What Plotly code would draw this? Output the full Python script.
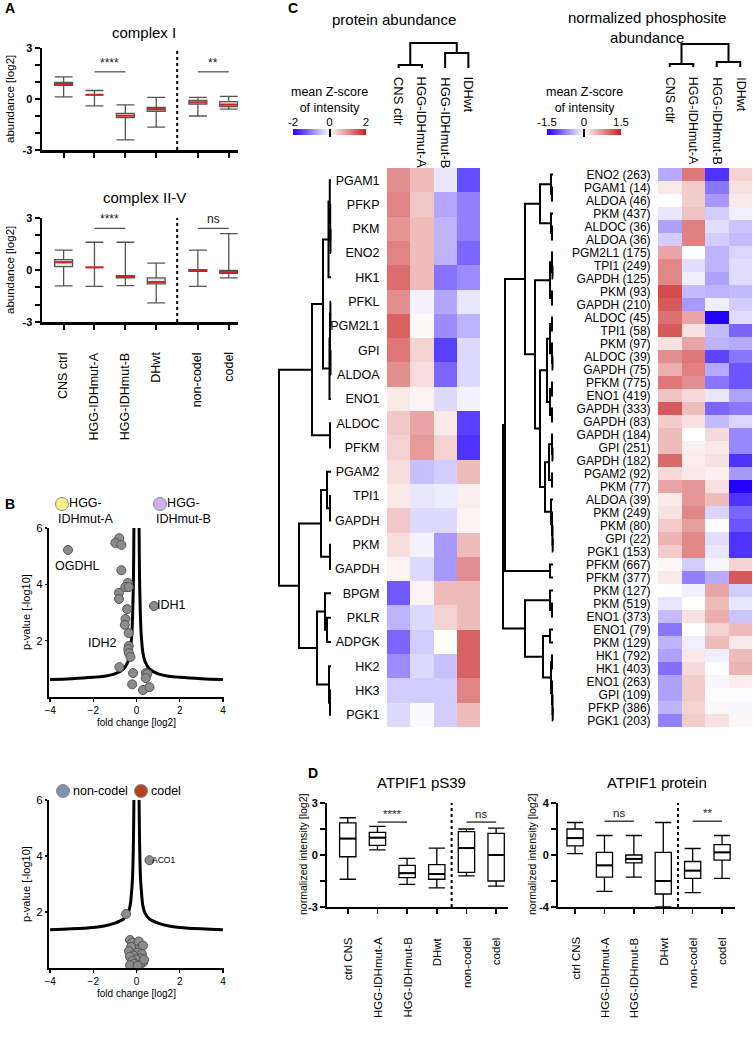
import numpy as np
import plotly.graph_objects as go

W, H = 753, 1038
FONT = "Liberation Sans, Arial, Helvetica, sans-serif"

# ---------------- data: panel A ----------------
groups_A = ["CNS ctrl", "HGG-IDHmut-A", "HGG-IDHmut-B", "DHwt", "non-codel", "codel"]
group_colors = ["#9b6b2b", "#f6f28c", "#cdb0f4", "#8aae8c", "#7b94b5", "#b5411e"]
pos_A = [0, 1, 2, 3, 4.35, 5.35]
sep_A = 3.68

c1_lo = [0.12, -0.4, -2.4, -1.65, -1.0, -0.6]
c1_q1 = [0.8, 0.25, -1.1, -0.72, -0.3, -0.45]
c1_med = [0.88, 0.25, -0.98, -0.6, -0.2, -0.33]
c1_q3 = [0.98, 0.25, -0.85, -0.5, -0.08, -0.15]
c1_hi = [1.3, 0.5, -0.35, 0.1, 0.1, 0.15]

c2_lo = [-0.92, -0.95, -0.9, -1.9, -0.95, -0.45]
c2_q1 = [0.2, 0.15, -0.45, -0.8, -0.08, -0.2]
c2_med = [0.45, 0.15, -0.4, -0.7, -0.03, -0.12]
c2_q3 = [0.6, 0.15, -0.32, -0.45, 0.02, -0.03]
c2_hi = [1.15, 1.6, 1.6, 0.4, 1.15, 2.1]

sig_A1_pairs = [(1, 2), (4, 5)]
sig_A1_text = ["****", "**"]
sig_A1_y = [1.6, 1.6]
sig_A2_pairs = [(1, 2), (4, 5)]
sig_A2_text = ["****", "ns"]
sig_A2_y = [2.4, 2.4]

# ---------------- data: panel B ----------------
v1_fc = [-3.17, -0.8, -0.98, -0.7, -0.7, -0.4, -0.52, -0.36, -0.81, -0.81, -0.43, -0.51,
         -0.54, -0.36, -0.36, -0.38, -0.35, -0.28, -0.79, -0.16, 0.81, 0.43, 0.5, 0.43,
         0.3, 0.6, -0.2]
v1_p = [5.22, 5.64, 5.47, 5.4, 4.5, 4.05, 3.9, 3.9, 3.7, 3.48, 3.12, 2.77,
        2.56, 2.27, 1.81, 1.7, 1.56, 1.42, 1.06, 0.85, 3.23, 0.85, 0.82, 0.67,
        0.25, 0.35, 0.45]
curve1_x = [0.12, 0.13, 0.15, 0.18, 0.22, 0.3, 0.4, 0.6, 1.0, 1.5, 2.0, 3.0, 4.0]
curve1_y = [6.0, 5.0, 3.8, 2.9, 2.2, 1.55, 1.25, 1.0, 0.82, 0.74, 0.7, 0.65, 0.62]

v2_fc = [0.6, -0.48, -0.3, -0.2, 0.1, -0.25, 0.15, 0.3, -0.35, 0.05, 0.25, -0.15, -0.3,
         0.2, 0.0, -0.2, 0.3, -0.1, 0.15, -0.3, 0.05, 0.35]
v2_p = [3.85, 1.93, 1.0, 0.9, 0.95, 0.75, 0.7, 0.8, 0.6, 0.55, 0.5, 0.45, 0.4,
        0.35, 0.3, 0.25, 0.2, 0.15, 0.12, 0.1, 0.08, 0.3]
curve2_x = [0.12, 0.13, 0.15, 0.18, 0.22, 0.3, 0.4, 0.6, 1.0, 1.5, 2.0, 3.0, 4.0]
curve2_y = [6.0, 5.2, 4.2, 3.3, 2.8, 2.2, 1.95, 1.75, 1.6, 1.5, 1.45, 1.4, 1.37]

# ---------------- data: panel C ----------------
heat_cols = ["CNS ctlr", "HGG-IDHmut-A", "HGG-IDHmut-B", "IDHwt"]
prot_rows = ["PGAM1", "PFKP", "PKM", "ENO2", "HK1", "PFKL", "PGM2L1", "GPI", "ALDOA", "ENO1",
             "ALDOC", "PFKM", "PGAM2", "TPI1", "GAPDH", "PKM", "GAPDH", "BPGM", "PKLR",
             "ADPGK", "HK2", "HK3", "PGK1"]
prot_z = [
    [1.0, 0.6, -0.2, -1.4], [1.1, 0.5, -0.7, -1.0], [0.95, 0.6, -0.6, -1.0],
    [1.1, 0.6, -0.6, -1.2], [1.3, 0.6, -1.1, -0.9], [1.0, -0.1, -0.7, -0.2],
    [1.4, 0.05, -0.9, -0.6], [1.2, 0.4, -1.5, -0.3], [1.0, 0.3, -1.2, -0.3],
    [0.2, 0.1, -0.3, -0.1], [0.5, 0.8, 0.2, -1.5], [0.4, 0.9, 0.4, -1.6],
    [0.3, -0.5, -0.4, 0.6], [0.2, -0.2, -0.15, 0.15], [0.5, -0.3, -0.3, 0.1],
    [0.3, -0.1, -0.8, 0.6], [0.1, -0.3, -0.8, 1.0], [-1.3, 0.1, 0.6, 0.6],
    [-0.6, -0.3, 0.4, 0.6], [-1.2, -0.4, 0.0, 1.4], [-0.9, -0.3, -0.5, 1.4],
    [-0.4, -0.4, -0.4, 1.1], [-0.3, -0.05, -0.4, 0.6]]
phos_rows = ["ENO2 (263)", "PGAM1 (14)", "ALDOA (46)", "PKM (437)", "ALDOC (36)", "ALDOA (36)",
             "PGM2L1 (175)", "TPI1 (249)", "GAPDH (125)", "PKM (93)", "GAPDH (210)", "ALDOC (45)",
             "TPI1 (58)", "PKM (97)", "ALDOC (39)", "GAPDH (75)", "PFKM (775)", "ENO1 (419)",
             "GAPDH (333)", "GAPDH (83)", "GAPDH (184)", "GPI (251)", "GAPDH (182)", "PGAM2 (92)",
             "PKM (77)", "ALDOA (39)", "PKM (249)", "PKM (80)", "GPI (22)", "PGK1 (153)",
             "PFKM (667)", "PFKM (377)", "PKM (127)", "PKM (519)", "ENO1 (373)", "ENO1 (79)",
             "PKM (129)", "HK1 (792)", "HK1 (403)", "ENO1 (263)", "GPI (109)", "PFKP (386)",
             "PGK1 (203)"]
phos_z = [
    [-0.5, 0.9, -1.2, 0.3], [0.15, 0.35, -0.8, 0.2], [0.0, 0.35, -0.6, 0.15],
    [-0.15, 0.4, -0.3, -0.1], [-0.55, 0.85, -0.2, -0.35], [-0.3, 0.85, -0.3, -0.4],
    [0.6, 0.0, -0.45, -0.25], [0.8, -0.2, -0.45, -0.2], [0.8, -0.1, -0.55, -0.2],
    [1.2, -0.4, -0.45, -0.4], [1.1, -0.6, -0.1, -0.3], [0.95, 0.6, -1.5, -0.2],
    [1.1, 0.2, -0.4, -0.9], [0.2, 0.6, -0.45, -0.5], [0.75, 0.9, -1.1, -0.8],
    [0.55, 0.85, -0.5, -1.0], [0.9, 0.75, -0.8, -1.0], [0.4, 0.25, -0.15, -0.55],
    [1.1, 0.45, -0.9, -0.8], [0.35, 0.2, -0.4, -0.25], [0.45, 0.0, 0.25, -0.7],
    [0.45, 0.1, 0.15, -0.7], [1.0, 0.12, 0.2, -1.2], [0.25, 0.15, 0.1, -0.6],
    [0.6, 0.7, 0.2, -1.5], [0.15, 0.7, 0.45, -1.2], [0.2, 0.8, -0.25, -0.9],
    [0.35, 0.65, 0.0, -1.0], [0.5, 0.8, -0.2, -1.2], [0.35, 0.8, -0.15, -1.2],
    [0.05, -0.3, -0.05, 0.3], [0.15, -0.75, -0.5, 1.1], [0.0, -0.1, 0.6, -0.3],
    [-0.15, 0.0, 0.45, -0.15], [-0.4, 0.2, 0.55, -0.35], [-0.8, 0.0, 0.3, 0.45],
    [-0.45, -0.1, 0.45, 0.15], [-0.55, 0.15, -0.1, 0.45], [-0.85, 0.25, 0.0, 0.5],
    [-0.55, 0.35, -0.05, 0.12], [-0.55, 0.35, 0.02, -0.02], [-0.45, 0.3, 0.05, -0.05],
    [-0.75, 0.35, 0.2, 0.05]]

# dendrograms: (height, left, right), leaves = row/column index
prot_row_tree = (52,
                 (19,
                  (8,
                   (2.5, (1.2, 0, (0.8, 1, (0.5, 2, 3))), 4),
                   (1.5, (1.0, (0.6, 5, 6), (0.5, 7, 8)), 9)),
                  (1.0, 10, 11)),
                 (32,
                  (10, (4, 12, (1.0, 13, 14)), (1.0, 15, 16)),
                  (14, (6, 17, (4, 18, 19)), (2, 20, (1.0, 21, 22)))))
phos_row_tree = (50,
                 (48,
                  (28,
                   (13, (2, 0, (1, 1, 2)), (2, 3, (1, 4, 5))),
                   (18,
                    (3, (1, 6, (0.5, 7, 8)), (1, 9, 10)),
                    (13,
                     (6, (3, (1, 11, 12), (1, 13, (0.5, 14, 15))), (3, (1, 16, 17), (1, 18, 19))),
                     (8, (4, (1, 20, (0.5, 21, 22)), (1, 23, 24)),
                      (2, 25, (1, 26, (0.5, 27, (0.3, 28, 29)))))))),
                  (3, 30, 31)),
                 (28, (3, 32, (1, 33, 34)),
                  (10, (3, 35, 36), (2, (1, 37, 38), (1, 39, (0.5, 40, (0.3, 41, 42)))))))
prot_col_tree = (25, (3, 0, 1), (15, 2, 3))
phos_col_tree = (23, (3, 0, 1), (5, 2, 3))

prot_cb_ticks = [-2, 0, 2]
phos_cb_ticks = [-1.5, 0, 1.5]

# ---------------- data: panel D ----------------
groups_D = ["ctrl CNS", "HGG-IDHmut-A", "HGG-IDHmut-B", "DHwt", "non-codel", "codel"]
pos_D = [0, 1, 2, 3, 4, 5]
sep_D = 3.5
d1_lo = [-1.4, 0.3, -1.7, -1.9, -1.2, -1.8]
d1_q1 = [-0.1, 0.55, -1.3, -1.4, -1.0, -1.5]
d1_med = [0.95, 1.0, -1.05, -1.1, 0.4, 0.0]
d1_q3 = [1.85, 1.3, -0.6, -0.55, 1.35, 1.25]
d1_hi = [2.15, 1.65, -0.2, 0.4, 1.5, 1.55]
d2_lo = [0.1, -2.8, -1.7, -4.0, -2.9, -1.8]
d2_q1 = [0.7, -1.7, -0.6, -3.0, -1.8, -0.4]
d2_med = [1.3, -0.8, -0.3, -2.0, -1.2, 0.2]
d2_q3 = [2.0, 0.2, 0.0, 0.2, -0.5, 0.8]
d2_hi = [2.5, 1.5, 1.5, 2.5, 0.5, 1.5]
sig_D1_pairs = [(1, 2), (4, 5)]
sig_D1_text = ["****", "ns"]
sig_D1_y = [1.9, 1.9]
sig_D2_pairs = [(1, 2), (4, 5)]
sig_D2_text = ["ns", "**"]
sig_D2_y = [2.6, 2.6]

# ---------------- helpers ----------------
def dxd(a, b):
    return [a / W, b / W]


def dyd(a, b):
    return [1 - b / H, 1 - a / H]


def px(x):
    return x / W


def py(y):
    return 1 - y / H


fig = go.Figure()
axes = {}
anns = []
CSCALE = [[0, "#2200ff"], [0.5, "#ffffff"], [1, "#c81e1e"]]


def add_axes(n, xd, yd, xo, yo):
    s = "" if n == 1 else str(n)
    base = dict(showgrid=False, zeroline=False, automargin=False)
    axes["xaxis" + s] = dict(domain=dxd(*xd), anchor="y" + s, **base, **xo)
    axes["yaxis" + s] = dict(domain=dyd(*yd), anchor="x" + s, **base, **yo)
    return "x" + s, "y" + s


def text(x, y, t, size=12, xanchor="center", yanchor="middle", bold=False, angle=0,
         xref="paper", yref="paper", align="center", color="black"):
    anns.append(dict(x=x, y=y, text=t, showarrow=False, xref=xref, yref=yref,
                     xanchor=xanchor, yanchor=yanchor, textangle=angle, align=align,
                     font=dict(size=size, family=FONT, color=color,
                               weight="bold" if bold else "normal")))


def dendro(tree):
    ps, hs = [], []

    def rec(node):
        if isinstance(node, int):
            return float(node), 0.0
        h, a, b = node
        pa, ha = rec(a)
        pb, hb = rec(b)
        ps.extend([pa, pa, pb, pb, None])
        hs.extend([ha, h, h, hb, None])
        return (pa + pb) / 2, h

    rec(tree)
    return ps, hs


def boxes(xa, ya, pos, lo, q1, med, q3, hi, line_col, fill, med_col, width, lw):
    fig.add_trace(go.Box(x=pos, q1=q1, median=med, q3=q3, lowerfence=lo, upperfence=hi,
                         xaxis=xa, yaxis=ya, fillcolor=fill, width=width, whiskerwidth=1,
                         line=dict(color=line_col, width=lw), boxpoints=False,
                         showlegend=False, hoverinfo="skip"))
    mx, my = [], []
    for p, m in zip(pos, med):
        mx += [p - width / 2, p + width / 2, None]
        my += [m, m, None]
    fig.add_trace(go.Scatter(x=mx, y=my, xaxis=xa, yaxis=ya, mode="lines",
                             line=dict(color=med_col, width=2), showlegend=False,
                             hoverinfo="skip"))


def sig(xa, ya, pos, pairs, labels, ys, col="#555555", size=12):
    sx, sy = [], []
    for (a, b), lab, yv in zip(pairs, labels, ys):
        sx += [pos[a], pos[b], None]
        sy += [yv, yv, None]
        text((pos[a] + pos[b]) / 2, yv, lab, size=size, yanchor="bottom", xref=xa, yref=ya,
             color="#222")
    fig.add_trace(go.Scatter(x=sx, y=sy, xaxis=xa, yaxis=ya, mode="lines",
                             line=dict(color=col, width=1.3), showlegend=False,
                             hoverinfo="skip"))


def sep_line(xa, ya, xs, y0, y1):
    fig.add_trace(go.Scatter(x=[xs, xs], y=[y0, y1], xaxis=xa, yaxis=ya, mode="lines",
                             line=dict(color="black", width=2, dash="dot"),
                             showlegend=False, hoverinfo="skip"))


def dots(xa, ya, pos, yv, size=14):
    fig.add_trace(go.Scatter(x=pos, y=[yv] * len(pos), xaxis=xa, yaxis=ya, mode="markers",
                             marker=dict(color=group_colors, size=size,
                                         line=dict(color="#888", width=1)),
                             cliponaxis=False, showlegend=False, hoverinfo="skip"))


# ---------------- panel A ----------------
xA = dict(range=[-0.7, 5.65], showline=True, linecolor="black", linewidth=2.5,
          ticks="outside", ticklen=5, tickwidth=2, tickcolor="black",
          tickvals=pos_A, showticklabels=False)
yA = dict(range=[-3, 3], showline=True, linecolor="black", linewidth=2.5,
          ticks="outside", ticklen=5, tickwidth=2, tickcolor="black",
          tickvals=[-3, -2, -1, 0, 1, 2, 3], ticktext=["-3", "", "", "0", "", "", "3"],
          tickfont=dict(size=11, family=FONT, weight="bold"))
xa1, ya1 = add_axes(1, (42, 238), (48, 150), xA, yA)
xa2, ya2 = add_axes(2, (42, 238), (218, 322), xA, yA)

for (xa, ya, lo, q1, md, q3, hi) in [(xa1, ya1, c1_lo, c1_q1, c1_med, c1_q3, c1_hi),
                                     (xa2, ya2, c2_lo, c2_q1, c2_med, c2_q3, c2_hi)]:
    sep_line(xa, ya, sep_A, -3, 3)
    boxes(xa, ya, pos_A, lo, q1, md, q3, hi, "#555555", "#e4e4e4", "#d42020", 0.58, 1.3)
sig(xa1, ya1, pos_A, sig_A1_pairs, sig_A1_text, sig_A1_y)
sig(xa2, ya2, pos_A, sig_A2_pairs, sig_A2_text, sig_A2_y)
dots(xa1, ya1, pos_A, -3.94)
dots(xa2, ya2, pos_A, -3.98)
for p, g in zip(pos_A, groups_A):
    text(p, py(350), g, size=12.5, angle=-90, yanchor="top", xref=xa2)
text(px(144), py(33), "complex I", size=15)
text(px(144), py(198), "complex II-V", size=15)
text(px(10), py(99), "abundance [log2]", size=11.5, angle=-90)
text(px(10), py(270), "abundance [log2]", size=11.5, angle=-90)
text(px(3), py(8), "A", size=14, bold=True, xanchor="left")

# ---------------- panel B ----------------
xB = dict(range=[-4.05, 4.05], showline=True, linecolor="black", linewidth=2,
          ticks="outside", ticklen=3, tickwidth=1.5, tickcolor="black",
          tickvals=[-4, -2, 0, 2, 4], tickfont=dict(size=10, family=FONT))
yB = dict(range=[0, 6], showline=True, linecolor="black", linewidth=2,
          ticks="outside", ticklen=2, tickwidth=1.5, tickcolor="black",
          tickvals=[2, 4, 6], tickfont=dict(size=11.5, family=FONT))
xa3, ya3 = add_axes(3, (49, 224), (528, 697), xB, yB)
xa4, ya4 = add_axes(4, (49, 224), (800, 968), xB, yB)

for (xa, ya, cx, cy, fc, pv) in [(xa3, ya3, curve1_x, curve1_y, v1_fc, v1_p),
                                 (xa4, ya4, curve2_x, curve2_y, v2_fc, v2_p)]:
    for sgn in (-1, 1):
        fig.add_trace(go.Scatter(x=[sgn * v for v in cx], y=cy, xaxis=xa, yaxis=ya,
                                 mode="lines", line=dict(color="black", width=3, shape="spline"),
                                 showlegend=False, hoverinfo="skip"))
    fig.add_trace(go.Scatter(x=fc, y=pv, xaxis=xa, yaxis=ya, mode="markers",
                             marker=dict(color="#8c8c8c", size=9,
                                         line=dict(color="#555", width=1)),
                             cliponaxis=False, showlegend=False, hoverinfo="skip"))

text(px(136), py(722), "fold change [log2]", size=10)
text(px(136), py(993), "fold change [log2]", size=10)
text(px(26), py(612), "p-value [-log10]", size=11, angle=-90)
text(px(26), py(884), "p-value [-log10]", size=11, angle=-90)
text(px(77), py(566), "OGDHL", size=12.5)
text(px(171), py(605), "IDH1", size=12.5)
text(px(103), py(643), "IDH2", size=12.5)
text(px(150), py(860), "ACO1", size=8.5, xanchor="left")
text(px(3), py(504), "B", size=14, bold=True, xanchor="left")
text(px(86), py(511), "HGG-<br>IDHmut-A", size=12.5)
text(px(183), py(511), "HGG-<br>IDHmut-B", size=12.5)
text(px(71), py(791), "non-codel", size=12.5, xanchor="left")
text(px(149), py(791), "codel", size=12.5, xanchor="left")
leg_shapes = []
for (cx_, cy_, col) in [(62, 504, group_colors[1]), (160, 504, group_colors[2]),
                        (63, 791, group_colors[4]), (141, 791, group_colors[5])]:
    leg_shapes.append(dict(type="circle", xref="paper", yref="paper",
                           x0=px(cx_ - 6.5), x1=px(cx_ + 6.5), y0=py(cy_ + 6.5), y1=py(cy_ - 6.5),
                           fillcolor=col, line=dict(color="#888", width=1)))


# ---------------- panel C ----------------
def heat_block(nh, nc, nr, ncb, xd_h, xd_row, xd_cb, col_yd, z, rows, ctree, rtree,
               zlim, cb_ticks, lab_size, row_hmax):
    n = len(rows)
    xh, yh = add_axes(nh, xd_h, (168, 727),
                      dict(range=[-0.5, 3.5], showticklabels=False, ticks=""),
                      dict(range=[n - 0.5, -0.5], tickvals=list(range(n)), ticktext=rows,
                           ticks="outside", ticklen=4, tickcolor="rgba(0,0,0,0)",
                           tickfont=dict(size=lab_size, family=FONT)))
    fig.add_trace(go.Heatmap(z=z, x=list(range(4)), y=list(range(n)), xaxis=xh, yaxis=yh,
                             colorscale=CSCALE, zmin=-zlim, zmax=zlim, showscale=False,
                             hoverinfo="skip"))
    xc, yc = add_axes(nc, xd_h, col_yd,
                      dict(range=[-0.5, 3.5], visible=False),
                      dict(range=[0, col_yd[1] - col_yd[0]], visible=False))
    cp, chh = dendro(ctree)
    fig.add_trace(go.Scatter(x=cp, y=chh, xaxis=xc, yaxis=yc, mode="lines",
                             line=dict(color="black", width=2), showlegend=False,
                             hoverinfo="skip"))
    xr, yr = add_axes(nr, xd_row, (168, 727),
                      dict(range=[row_hmax, -2], visible=False),
                      dict(range=[n - 0.5, -0.5], visible=False))
    rp, rh = dendro(rtree)
    fig.add_trace(go.Scatter(x=rh, y=rp, xaxis=xr, yaxis=yr, mode="lines",
                             line=dict(color="black", width=2), showlegend=False,
                             hoverinfo="skip"))
    cb_vals = list(np.linspace(-zlim, zlim, 101))
    xb, yb = add_axes(ncb, xd_cb, (129, 135),
                      dict(range=[-zlim, zlim], side="top", tickvals=cb_ticks,
                           ticktext=[str(t) for t in cb_ticks], ticks="inside", ticklen=8,
                           tickwidth=2, tickcolor="black",
                           tickfont=dict(size=11.5, family=FONT)),
                      dict(range=[-0.5, 0.5], visible=False))
    fig.add_trace(go.Heatmap(z=[cb_vals], x=cb_vals, y=[0], xaxis=xb, yaxis=yb,
                             colorscale=CSCALE, zmin=-zlim, zmax=zlim, showscale=False,
                             hoverinfo="skip"))
    for i, c in enumerate(heat_cols):
        text(i, py(75), c, size=lab_size + 0.5, angle=90, yanchor="top", xref=xh)


heat_block(5, 6, 7, 8, (387, 480), (273, 333), (293, 366), (40, 68), prot_z, prot_rows,
           prot_col_tree, prot_row_tree, 2, prot_cb_ticks, 12.5, 58)
heat_block(9, 10, 11, 12, (658, 752), (497, 555), (547, 621), (40, 67), phos_z, phos_rows,
           phos_col_tree, phos_row_tree, 1.5, phos_cb_ticks, 12, 56)
text(px(329), py(100), "mean Z-score<br>of intensity", size=12.5)
text(px(584), py(100), "mean Z-score<br>of intensity", size=12.5)
text(px(394), py(20), "protein abundance", size=15)
text(px(647), py(27), "normalized phosphosite<br>abundance", size=15)
text(px(286), py(8), "C", size=14, bold=True, xanchor="left")


# ---------------- panel D ----------------
def d_axes(n, xd, xr, yr, ytv, ytt):
    return add_axes(n, xd, (803, 907),
                    dict(range=xr, showline=True, linecolor="black", linewidth=2,
                         ticks="outside", ticklen=5, tickwidth=1.5, tickcolor="black",
                         tickvals=pos_D, showticklabels=False),
                    dict(range=yr, showline=True, linecolor="black", linewidth=2,
                         ticks="outside", ticklen=5, tickwidth=1.5, tickcolor="black",
                         tickvals=ytv, ticktext=ytt,
                         tickfont=dict(size=11, family=FONT, weight="bold")))


xa13, ya13 = d_axes(13, (327, 508), [-0.7, 5.4], [-3, 3], [-3, -1.5, 0, 1.5, 3],
                    ["-3", "", "0", "", "3"])
xa14, ya14 = d_axes(14, (558, 735), [-0.58, 5.44], [-4, 4], [-4, -2, 0, 2, 4],
                    ["-4", "", "0", "", "4"])
sep_line(xa13, ya13, sep_D, -3, 3)
sep_line(xa14, ya14, sep_D, -4, 4)
boxes(xa13, ya13, pos_D, d1_lo, d1_q1, d1_med, d1_q3, d1_hi, "black", "white", "black", 0.55, 1.3)
boxes(xa14, ya14, pos_D, d2_lo, d2_q1, d2_med, d2_q3, d2_hi, "black", "white", "black", 0.55, 1.3)
sig(xa13, ya13, pos_D, sig_D1_pairs, sig_D1_text, sig_D1_y, col="#222", size=11.5)
sig(xa14, ya14, pos_D, sig_D2_pairs, sig_D2_text, sig_D2_y, col="#222", size=11.5)
dots(xa13, ya13, pos_D, -3.98)
dots(xa14, ya14, pos_D, -5.3)
for p, g in zip(pos_D, groups_D):
    text(p, py(935), g, size=11.5, angle=-90, yanchor="top", xref=xa13)
    text(p, py(935), g, size=11.5, angle=-90, yanchor="top", xref=xa14)
text(px(422), py(782), "ATPIF1 pS39", size=15)
text(px(657), py(782), "ATPIF1 protein", size=15)
text(px(303), py(855), "normalized intensity [log2]", size=10.5, angle=-90)
text(px(532), py(855), "normalized intensity [log2]", size=10.5, angle=-90)
text(px(306), py(773), "D", size=14, bold=True, xanchor="left")

fig.update_layout(width=W, height=H, margin=dict(l=0, r=0, t=0, b=0),
                  paper_bgcolor="white", plot_bgcolor="rgba(0,0,0,0)",
                  font=dict(family=FONT, color="black"), showlegend=False,
                  annotations=anns, shapes=leg_shapes, **axes)
fig.write_html("out.html", config={"displayModeBar": False, "staticPlot": True},
               post_script="document.body.style.margin='0px';document.body.style.overflow='hidden';")
